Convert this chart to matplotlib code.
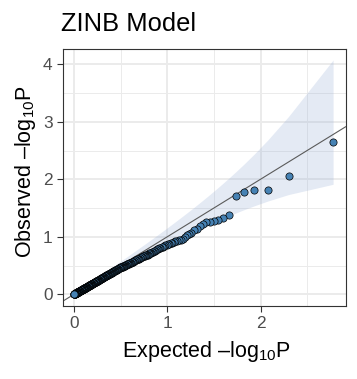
import math
import numpy as np
import matplotlib
matplotlib.use("Agg")
import matplotlib.pyplot as plt

plt.rcParams['font.family'] = ['Liberation Sans', 'DejaVu Sans']
plt.rcParams['mathtext.fontset'] = 'custom'
plt.rcParams['mathtext.rm'] = 'Liberation Sans'
plt.rcParams['mathtext.it'] = 'Liberation Sans:italic'

title = "ZINB Model"
xlabel = r"Expected –log$_{10}$P"
ylabel = r"Observed –log$_{10}$P"
n_tests = 300
xticks = [0, 1, 2]
yticks = [0, 1, 2, 3, 4]

# observed -log10(p), sorted descending
observed = [
    2.64, 2.05, 1.82, 1.82, 1.77, 1.71, 1.38, 1.33, 1.30, 1.27,
    1.26, 1.25, 1.22, 1.18, 1.14, 1.11, 1.07, 1.05, 1.03, 1.00,
    0.96, 0.95, 0.94, 0.93, 0.92, 0.91, 0.90, 0.89, 0.88, 0.87,
    0.86, 0.85, 0.84, 0.83, 0.82, 0.81, 0.80, 0.79, 0.78, 0.77,
    0.76, 0.75, 0.74, 0.73, 0.72, 0.72, 0.71, 0.70, 0.69, 0.69,
    0.68, 0.68, 0.67, 0.66, 0.66, 0.65, 0.65, 0.64, 0.63, 0.63,
    0.62, 0.62, 0.61, 0.61, 0.60, 0.59, 0.59, 0.58, 0.58, 0.57,
    0.57, 0.56, 0.56, 0.55, 0.55, 0.54, 0.54, 0.53, 0.53, 0.53,
    0.52, 0.52, 0.51, 0.51, 0.51, 0.50, 0.50, 0.50, 0.49, 0.49,
    0.48, 0.48, 0.48, 0.47, 0.47, 0.47, 0.46, 0.46, 0.46, 0.45,
    0.446, 0.442, 0.438, 0.434, 0.430, 0.426, 0.422, 0.418, 0.414, 0.411,
    0.407, 0.404, 0.400, 0.397, 0.393, 0.390, 0.386, 0.383, 0.379, 0.376,
    0.373, 0.369, 0.366, 0.363, 0.359, 0.356, 0.353, 0.350, 0.346, 0.343,
    0.340, 0.337, 0.334, 0.331, 0.328, 0.325, 0.322, 0.319, 0.316, 0.313,
    0.310, 0.307, 0.304, 0.301, 0.298, 0.296, 0.293, 0.290, 0.287, 0.284,
    0.281, 0.279, 0.276, 0.273, 0.271, 0.268, 0.265, 0.263, 0.260, 0.258,
    0.255, 0.253, 0.250, 0.248, 0.245, 0.243, 0.240, 0.238, 0.235, 0.233,
    0.231, 0.228, 0.226, 0.224, 0.221, 0.219, 0.217, 0.215, 0.212, 0.210,
    0.208, 0.205, 0.203, 0.201, 0.199, 0.197, 0.194, 0.192, 0.190, 0.188,
    0.186, 0.184, 0.182, 0.180, 0.177, 0.175, 0.173, 0.171, 0.169, 0.167,
    0.165, 0.163, 0.161, 0.159, 0.157, 0.155, 0.153, 0.151, 0.149, 0.147,
    0.145, 0.143, 0.141, 0.139, 0.137, 0.135, 0.133, 0.131, 0.129, 0.128,
    0.126, 0.124, 0.122, 0.120, 0.118, 0.117, 0.115, 0.113, 0.111, 0.109,
    0.107, 0.106, 0.104, 0.102, 0.100, 0.099, 0.097, 0.095, 0.094, 0.092,
    0.090, 0.088, 0.087, 0.085, 0.083, 0.082, 0.080, 0.078, 0.077, 0.075,
    0.073, 0.072, 0.070, 0.069, 0.067, 0.065, 0.064, 0.062, 0.061, 0.059,
    0.058, 0.056, 0.055, 0.053, 0.052, 0.050, 0.049, 0.047, 0.046, 0.044,
    0.043, 0.041, 0.040, 0.038, 0.037, 0.035, 0.034, 0.032, 0.031, 0.029,
    0.028, 0.026, 0.025, 0.023, 0.022, 0.020, 0.019, 0.017, 0.016, 0.015,
    0.013, 0.012, 0.010, 0.009, 0.007, 0.006, 0.005, 0.003, 0.002, 0.001,
]

n = n_tests
ranks = np.arange(1, n + 1)
expected = -np.log10((ranks - 0.5) / n)

# beta-quantile confidence band for order statistics
ks = np.arange(0, n + 1)
logc = np.array([math.lgamma(n + 1) - math.lgamma(k + 1) - math.lgamma(n - k + 1) for k in ks])


def qbeta_order(q, a):
    lo, hi = 0.0, 1.0
    for _ in range(70):
        mid = 0.5 * (lo + hi)
        logpmf = logc + ks * np.log(mid) + (n - ks) * np.log1p(-mid)
        cdf = np.exp(logpmf[a:]).sum()
        if cdf < q:
            lo = mid
        else:
            hi = mid
    return 0.5 * (lo + hi)


upper = np.array([-np.log10(qbeta_order(0.025, i)) for i in ranks])
lower = np.array([-np.log10(qbeta_order(0.975, i)) for i in ranks])

fig = plt.figure(figsize=(3.57, 3.79), dpi=100)
ax = fig.add_axes([0.1756, 0.1934, 0.968 - 0.1756, 0.870 - 0.1934])

ax.set_xlim(-0.121, 2.912)
ax.set_ylim(-0.198, 4.26)
ax.set_xticks(xticks)
ax.set_yticks(yticks)
ax.set_xticks([0.5, 1.5, 2.5], minor=True)
ax.set_yticks([0.5, 1.5, 2.5, 3.5], minor=True)
ax.grid(which='major', color='#ebebeb', linewidth=1.4, zorder=0)
ax.grid(which='minor', color='#ebebeb', linewidth=0.7, zorder=0)
ax.set_axisbelow(True)
ax.tick_params(which='minor', length=0)
ax.tick_params(which='major', length=4, width=0.8, color='#333333',
               labelsize=12.4, labelcolor='#4d4d4d', pad=3.2)
for s in ax.spines.values():
    s.set_color('#333333')
    s.set_linewidth(0.8)

ax.fill_between(expected, lower, upper, color='#9fb4d9', alpha=0.28,
                linewidth=0, zorder=1)
ax.axline((0, 0), slope=1, color='#5a5a5a', linewidth=0.8, zorder=2)
ax.scatter(expected, observed, s=27, facecolor='#4682b4', edgecolor='black',
           linewidth=0.5, zorder=3)

fig.text(61 / 357, 1 - 31 / 379, title, fontsize=18.4, ha='left', va='baseline')
fig.text(206 / 357, 1 - 357.5 / 379, xlabel, fontsize=15.5, ha='center', va='baseline')
fig.text(31 / 357, 1 - 172 / 379, ylabel, fontsize=15.5, ha='center', va='baseline',
         rotation=90, rotation_mode='anchor')

fig.savefig("out.png", dpi=100)
